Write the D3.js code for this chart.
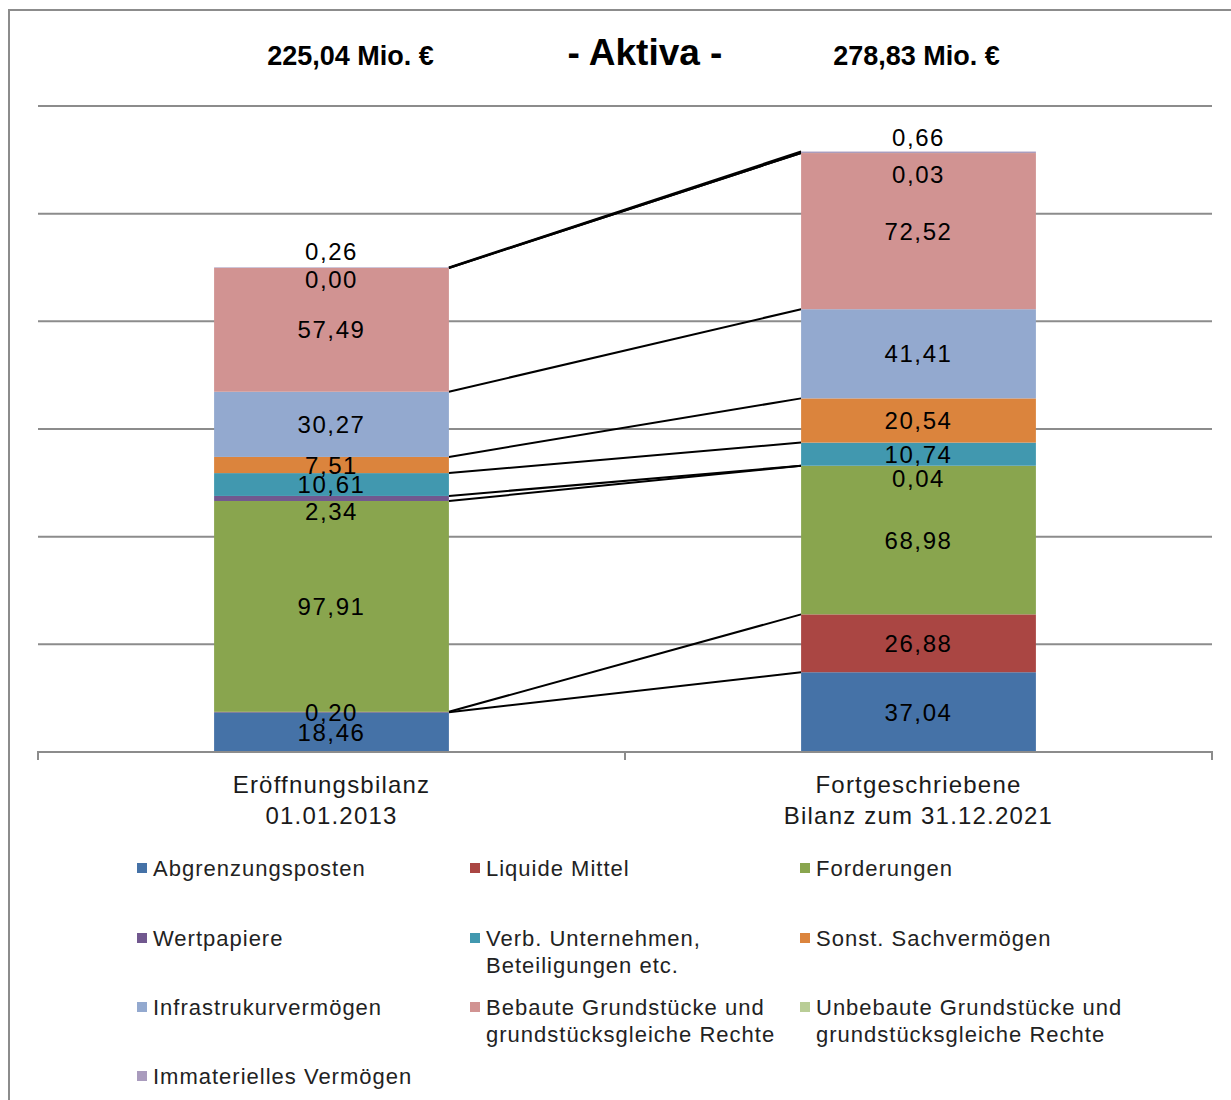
<!DOCTYPE html>
<html>
<head>
<meta charset="utf-8">
<script src="https://cdn.jsdelivr.net/npm/d3@7"></script>
<style>
  body { margin: 0; background: #fff; }
  svg { display: block; font-family: "Liberation Sans", Arial, sans-serif; }
</style>
</head>
<body>
<svg id="chart" width="1231" height="1100"></svg>
<script>
// categories (two balance sheets)
var categories = ["Eröffnungsbilanz\n01.01.2013", "Fortgeschriebene\nBilanz zum 31.12.2021"];
var totals = [225.04, 278.83];

// series, stacked bottom to top
var seriesNames = ["Abgrenzungsposten", "Liquide Mittel", "Forderungen", "Wertpapiere",
  "Verb. Unternehmen, Beteiligungen etc.", "Sonst. Sachvermögen", "Infrastrukurvermögen",
  "Bebaute Grundstücke und grundstücksgleiche Rechte",
  "Unbebaute Grundstücke und grundstücksgleiche Rechte", "Immaterielles Vermögen"];
var values2013 = [18.46, 0.20, 97.91, 2.34, 10.61, 7.51, 30.27, 57.49, 0.00, 0.26];
var values2021 = [37.04, 26.88, 68.98, 0.04, 10.74, 20.54, 41.41, 72.52, 0.03, 0.66];
var gridTicks = [50, 100, 150, 200, 250, 300];

var colors = ["#4572a7", "#aa4643", "#89a54e", "#71588f", "#4198af", "#db843d",
  "#93a9cf", "#d19392", "#b9cd96", "#a99bbd"];

// legend lines as they wrap in the picture
var legendLines = [["Abgrenzungsposten"], ["Liquide Mittel"], ["Forderungen"], ["Wertpapiere"],
  ["Verb. Unternehmen,", "Beteiligungen etc."], ["Sonst. Sachvermögen"], ["Infrastrukurvermögen"],
  ["Bebaute Grundstücke und", "grundstücksgleiche Rechte"],
  ["Unbebaute Grundstücke und", "grundstücksgleiche Rechte"], ["Immaterielles Vermögen"]];

// small label shifts where values overlap (px), [bar][series]
var labelNudge = [
  {3: 13, 8: 11, 9: -16},
  {3: 13, 8: 21, 9: -15}
];

var de = d3.formatLocale({decimal: ",", thousands: ".", grouping: [3], currency: ["", " €"]});
var fmt = de.format(".2f");

var svg = d3.select("#chart");

// frame
svg.append("rect")
  .attr("x", 9).attr("y", 10).attr("width", 1240).attr("height", 1120)
  .attr("fill", "none").attr("stroke", "#8c8c8c").attr("stroke-width", 2);

var x = d3.scaleBand().domain(categories).range([38, 1212])
  .paddingInner(0.6).paddingOuter(0.3);
var y = d3.scaleLinear().domain([0, 300]).range([752, 106]);

// gridlines
svg.append("g").selectAll("line")
  .data(gridTicks).enter().append("line")
    .attr("x1", 38).attr("x2", 1212)
    .attr("y1", function(d) { return y(d); })
    .attr("y2", function(d) { return y(d); })
    .attr("stroke", "#8c8c8c").attr("stroke-width", 2);

// stacked data
var rows = categories.map(function(c, i) {
  var r = {cat: c};
  var vals = i === 0 ? values2013 : values2021;
  seriesNames.forEach(function(s, j) { r[s] = vals[j]; });
  return r;
});
var stack = d3.stack().keys(seriesNames);
var layers = stack(rows);

// connector lines between bars at each series top
var xRight = x(categories[0]) + x.bandwidth();
var xLeft = x(categories[1]);
svg.append("g").selectAll("line")
  .data(layers).enter().append("line")
    .attr("x1", xRight).attr("x2", xLeft)
    .attr("y1", function(d) { return y(d[0][1]); })
    .attr("y2", function(d) { return y(d[1][1]); })
    .attr("stroke", "#000").attr("stroke-width", 2);

// bars
var bars = svg.append("g").selectAll("g")
  .data(layers).enter().append("g")
    .attr("fill", function(d, i) { return colors[i]; });

bars.selectAll("rect")
  .data(function(d) { return d; })
  .enter().append("rect")
    .attr("x", function(d) { return x(d.data.cat); })
    .attr("width", x.bandwidth())
    .attr("y", function(d) { return y(d[1]); })
    .attr("height", function(d) { return y(d[0]) - y(d[1]); });

// value labels
layers.forEach(function(layer, j) {
  layer.forEach(function(d, i) {
    var shift = labelNudge[i][j] || 0;
    svg.append("text")
      .attr("x", x(d.data.cat) + x.bandwidth() / 2)
      .attr("y", (y(d[0]) + y(d[1])) / 2 + shift)
      .attr("dy", "0.36em")
      .attr("text-anchor", "middle")
      .style("font-size", "24px")
      .style("letter-spacing", "1.6px")
      .style("fill", "#000")
      .text(fmt(d.data[seriesNames[j]]));
  });
});

// x axis
var axis = svg.append("g");
axis.append("path")
  .attr("d", "M38,760V752H1212V760M625,752V760")
  .attr("fill", "none").attr("stroke", "#8c8c8c").attr("stroke-width", 2);

categories.forEach(function(c) {
  var t = axis.append("text")
    .attr("x", x(c) + x.bandwidth() / 2)
    .attr("y", 793)
    .attr("text-anchor", "middle")
    .style("font-size", "24px")
    .style("letter-spacing", "1.2px")
    .style("fill", "#1a1a1a");
  c.split("\n").forEach(function(line, k) {
    t.append("tspan").attr("x", x(c) + x.bandwidth() / 2)
      .attr("dy", k === 0 ? 0 : 31).text(line);
  });
});

// totals and title
svg.selectAll(".total")
  .data(totals).enter().append("text")
    .attr("class", "total")
    .attr("x", function(d, i) { return x(categories[i]) + x.bandwidth() / 2 + (i === 0 ? 19 : -2); })
    .attr("y", 65)
    .attr("text-anchor", "middle")
    .style("font-family", "'Liberation Sans Narrow', 'Liberation Sans', sans-serif")
    .style("font-weight", "bold")
    .style("font-size", "27px")
    .text(function(d) { return fmt(d) + " Mio. €"; });

svg.append("text")
  .attr("x", 645).attr("y", 65)
  .attr("text-anchor", "middle")
  .style("font-family", "'Liberation Sans Narrow', 'Liberation Sans', sans-serif")
  .style("font-weight", "bold")
  .style("font-size", "37px")
  .style("white-space", "pre")
  .text("- Aktiva -");

// legend
var legendX = [137, 470, 800];
var legendY = [868, 938, 1007, 1076];
var legend = svg.append("g").selectAll("g")
  .data(seriesNames).enter().append("g")
    .attr("transform", function(d, i) {
      return "translate(" + legendX[i % 3] + "," + legendY[Math.floor(i / 3)] + ")";
    });

legend.append("rect")
  .attr("x", 0).attr("y", -5).attr("width", 10).attr("height", 10)
  .attr("fill", function(d, i) { return colors[i]; });

legend.append("text")
  .attr("x", 16).attr("y", 0)
  .style("font-size", "22px")
  .style("letter-spacing", "1px")
  .style("fill", "#222")
  .each(function(d, i) {
    var t = d3.select(this);
    legendLines[i].forEach(function(line, k) {
      t.append("tspan").attr("x", 16).attr("dy", k === 0 ? "0.36em" : 27).text(line);
    });
  });
</script>
</body>
</html>
